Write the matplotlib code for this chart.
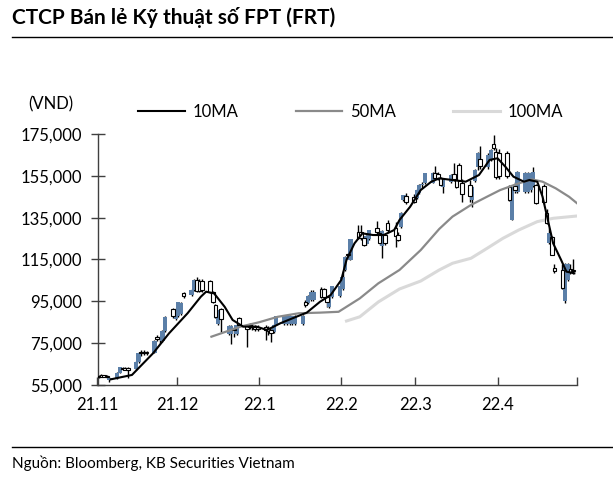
import os

os.environ.setdefault("MPLCONFIGDIR", "/tmp/matplotlib")

import matplotlib
matplotlib.use("Agg")
import matplotlib.pyplot as plt
import matplotlib.dates as mdates
from matplotlib.lines import Line2D
from matplotlib.ticker import FuncFormatter
import pandas as pd

# daily candles (thousand VND), one per weekday 2021-11-01 .. 2022-04-29
opens = [
    59.5, 59.8, 59.6, 59.5, 57.5, 58.5, 60.8, 63.3, 63.2, 63.0,
    62.5, 66.0, 70.8, 70.8, 70.6, 70.5, 77.8, 77.0, 76.0, 81.0,
    91.5, 86.5, 88.0, 89.0, 98.8, 98.0, 100.5, 105.0, 104.8, 104.8,
    104.5, 99.5, 93.2, 84.0, 91.3, 79.5, 79.5, 81.8, 79.6, 87.0,
    83.5, 83.5, 83.0, 82.8, 82.5, 82.5, 82.2, 81.5, 80.3, 83.7,
    84.0, 84.2, 84.0, 84.3, 84.0, 84.0, 94.7, 94.0, 95.6, 95.8,
    101.0, 101.0, 97.0, 92.5, 97.0, 97.5, 101.0, 110.0, 117.5, 115.0,
    128.0, 128.0, 125.3, 122.5, 125.0, 130.0, 127.5, 121.5, 126.5, 132.5,
    130.0, 126.5, 130.5, 143.5, 145.5, 145.0, 144.4, 146.8, 150.5, 151.6,
    151.8, 156.3, 156.0, 154.0, 149.6, 152.0, 156.0, 153.0, 160.0, 151.5,
    150.5, 143.4, 152.5, 159.0, 163.0, 159.2, 162.6, 170.0, 166.4, 166.0,
    166.0, 149.6, 134.0, 150.0, 147.5, 147.5, 147.5, 148.0, 150.0, 150.5,
    150.0, 137.2, 122.9, 125.7, 111.0, 110.0, 95.0, 105.0, 110.5, 110.0,
]
highs = [
    60.0, 60.2, 60.0, 59.8, 59.0, 61.0, 63.8, 63.8, 63.6, 63.5,
    66.5, 71.0, 71.8, 71.6, 71.4, 76.5, 79.0, 78.5, 81.5, 87.8,
    92.0, 92.0, 94.8, 94.5, 99.5, 101.0, 105.5, 106.6, 105.5, 105.5,
    105.0, 100.0, 93.5, 91.0, 92.0, 83.5, 83.5, 82.5, 84.0, 87.5,
    84.0, 84.5, 84.0, 83.8, 83.5, 83.5, 83.0, 82.0, 84.0, 88.0,
    88.2, 88.0, 88.3, 88.2, 88.3, 88.5, 95.5, 98.0, 100.4, 100.4,
    101.8, 101.6, 97.5, 97.5, 102.5, 102.5, 109.5, 116.5, 118.0, 125.0,
    131.5, 131.5, 126.0, 126.5, 129.0, 133.5, 128.0, 129.0, 127.0, 134.0,
    133.0, 128.0, 137.5, 146.0, 147.0, 146.5, 148.5, 151.0, 152.0, 156.5,
    156.8, 159.7, 157.0, 154.5, 153.5, 155.8, 161.0, 154.0, 161.0, 153.5,
    153.0, 150.0, 158.5, 166.5, 169.5, 166.0, 168.0, 174.5, 168.5, 168.0,
    167.0, 150.5, 149.8, 152.0, 157.5, 157.0, 157.0, 157.0, 159.2, 151.0,
    151.0, 139.0, 130.0, 126.0, 113.0, 113.0, 113.5, 113.5, 113.0, 115.0,
]
lows = [
    58.5, 58.8, 58.8, 58.5, 56.5, 58.0, 60.5, 62.0, 62.0, 58.5,
    62.0, 65.5, 69.0, 69.2, 69.3, 70.2, 76.0, 75.0, 75.5, 80.5,
    87.0, 86.0, 87.5, 88.5, 96.5, 97.5, 100.0, 99.5, 99.5, 99.5,
    99.0, 94.0, 87.0, 83.5, 80.3, 79.0, 74.5, 78.0, 79.0, 83.0,
    73.0, 82.0, 81.5, 81.0, 81.0, 76.5, 79.0, 75.5, 79.8, 83.5,
    83.6, 83.8, 83.5, 83.8, 83.6, 83.5, 92.5, 93.5, 95.0, 95.0,
    96.5, 96.5, 92.3, 92.0, 96.5, 97.0, 100.5, 109.5, 116.5, 114.8,
    125.0, 124.5, 121.5, 122.0, 124.5, 127.0, 122.0, 115.7, 122.0, 128.0,
    121.0, 124.0, 130.0, 143.0, 141.5, 142.0, 144.0, 146.5, 149.0, 151.0,
    151.5, 153.5, 153.0, 150.0, 147.0, 151.5, 152.5, 149.0, 152.5, 142.5,
    142.5, 140.0, 152.0, 158.0, 158.5, 158.5, 162.0, 167.5, 153.5, 153.5,
    154.0, 143.0, 133.9, 147.0, 147.0, 147.0, 147.0, 147.5, 149.5, 141.5,
    141.5, 132.0, 122.5, 117.0, 108.5, 101.0, 94.2, 104.5, 108.0, 108.0,
]
closes = [
    59.0, 59.0, 58.9, 58.8, 58.5, 60.8, 63.5, 62.5, 62.4, 62.2,
    66.0, 70.5, 70.2, 70.3, 70.2, 76.0, 77.0, 77.8, 81.0, 87.5,
    87.8, 91.5, 94.5, 94.0, 97.5, 100.5, 105.0, 100.0, 100.0, 100.2,
    99.5, 94.7, 87.5, 90.8, 86.5, 83.2, 83.0, 81.2, 83.5, 83.8,
    81.8, 82.8, 82.5, 82.0, 81.8, 81.5, 81.0, 80.0, 83.7, 87.8,
    88.0, 87.8, 88.0, 87.9, 88.0, 88.2, 93.2, 97.5, 99.5, 99.4,
    97.2, 97.0, 94.7, 97.1, 102.3, 102.3, 106.6, 116.2, 117.0, 124.8,
    125.5, 125.2, 122.0, 126.0, 128.9, 128.0, 123.0, 128.5, 123.0, 129.0,
    126.0, 124.5, 137.2, 145.8, 142.5, 142.5, 148.2, 150.6, 151.0, 156.3,
    156.3, 154.0, 154.0, 150.6, 153.0, 155.4, 153.5, 149.6, 153.0, 146.5,
    145.5, 149.6, 158.0, 165.9, 159.5, 165.0, 167.3, 168.5, 154.5, 155.0,
    155.0, 143.5, 149.6, 148.0, 156.8, 156.5, 156.5, 156.5, 157.0, 142.0,
    142.5, 132.4, 127.7, 117.1, 109.5, 101.4, 113.0, 113.0, 109.0, 109.5,
]

# moving averages
ma10_dates = [
    "2021-11-06", "2021-11-14", "2021-11-17", "2021-11-22", "2021-11-28",
    "2021-12-05", "2021-12-10", "2021-12-12", "2021-12-15", "2021-12-19",
    "2021-12-22", "2021-12-26", "2021-12-31", "2022-01-04", "2022-01-09",
    "2022-01-15", "2022-01-19", "2022-01-24", "2022-01-28", "2022-02-01",
    "2022-02-03", "2022-02-06", "2022-02-09", "2022-02-13", "2022-02-17",
    "2022-02-21", "2022-02-23", "2022-02-27", "2022-03-03", "2022-03-07",
    "2022-03-10", "2022-03-15", "2022-03-20", "2022-03-25", "2022-03-29",
    "2022-04-01", "2022-04-04", "2022-04-07", "2022-04-11", "2022-04-13",
    "2022-04-16", "2022-04-18", "2022-04-20", "2022-04-22", "2022-04-25",
    "2022-04-27", "2022-04-30",
]
ma10_values = [
    57.7, 59.8, 63.7, 70.2, 79.7,
    89.3, 97.2, 99.6, 98.8, 92.4,
    86.1, 82.9, 82.9, 81.3, 84.5,
    87.6, 89.6, 94.8, 98.0, 105.2,
    114.8, 122.7, 127.5, 126.7, 126.7,
    129.1, 133.9, 140.2, 148.2, 152.2,
    153.8, 153.0, 152.2, 155.4, 162.6,
    163.4, 159.3, 154.6, 152.2, 153.0,
    152.2, 145.0, 133.9, 122.7, 114.8,
    109.2, 108.4,
]
ma50_dates = [
    "2021-12-14", "2021-12-25", "2022-01-01", "2022-01-08", "2022-01-16",
    "2022-01-24", "2022-01-31", "2022-02-03", "2022-02-08", "2022-02-15",
    "2022-02-23", "2022-03-03", "2022-03-10", "2022-03-15", "2022-03-22",
    "2022-03-28", "2022-04-02", "2022-04-09", "2022-04-14", "2022-04-18",
    "2022-04-23", "2022-04-28", "2022-05-01",
]
ma50_values = [
    78.1, 82.9, 85.0, 87.6, 89.3,
    89.6, 90.0, 92.4, 96.4, 103.6,
    110.0, 119.5, 129.6, 135.5, 141.1,
    145.0, 148.2, 151.4, 153.3, 152.2,
    149.0, 145.0, 141.9,
]
ma100_dates = [
    "2022-02-03", "2022-02-08", "2022-02-15", "2022-02-23", "2022-03-03",
    "2022-03-10", "2022-03-15", "2022-03-22", "2022-03-28", "2022-04-03",
    "2022-04-09", "2022-04-16", "2022-04-22", "2022-05-01",
]
ma100_values = [
    85.6, 87.6, 94.7, 100.9, 104.7,
    110.0, 113.2, 115.6, 120.3, 125.1,
    129.1, 133.1, 134.7, 135.8,
]

UP_COLOR = "#5b7fa8"

plt.rcParams["font.family"] = ["Lato", "DejaVu Sans"]

fig = plt.figure(figsize=(6.13, 4.79), dpi=100)
ax = fig.add_axes([97.5 / 613, 94 / 479, 479.5 / 613, 251 / 479])

days = pd.bdate_range("2021-11-01", "2022-04-29")
x = mdates.date2num(days) + 0.5
df = pd.DataFrame({"x": x, "o": opens, "h": highs, "l": lows, "c": closes})
up = df[df.c >= df.o]
down = df[df.c < df.o]

ax.vlines(df.x, df.l, df.h, color="black", linewidth=1.0, zorder=2)
ax.bar(up.x, up.c - up.o, bottom=up.o, width=1.6, color=UP_COLOR, linewidth=0, zorder=3)
ax.bar(down.x, down.o - down.c, bottom=down.c, width=1.4, facecolor="white",
       edgecolor="black", linewidth=0.8, zorder=3)

ax.plot(pd.to_datetime(ma100_dates), ma100_values, color="#d9d9d9", linewidth=2.2, zorder=1)
ax.plot(pd.to_datetime(ma50_dates), ma50_values, color="#8a8a8a", linewidth=1.6, zorder=4)
ax.plot(pd.to_datetime(ma10_dates), ma10_values, color="black", linewidth=1.5, zorder=5)

ax.set_xlim(mdates.datestr2num("2021-11-01"), mdates.datestr2num("2022-05-01"))
ax.set_ylim(55, 175)
ax.set_yticks(range(55, 176, 20))
ax.yaxis.set_major_formatter(FuncFormatter(lambda v, _: f"{v * 1000:,.0f}"))
ax.xaxis.set_major_locator(mdates.MonthLocator())


def month_label(v, _):
    d = mdates.num2date(v)
    if d.year == 2022 and d.month == 5:
        return ""
    return f"{d.year % 100}.{d.month}"


ax.xaxis.set_major_formatter(FuncFormatter(month_label))

for side in ("top", "right"):
    ax.spines[side].set_visible(False)
for side in ("left", "bottom"):
    ax.spines[side].set_color("#404040")
    ax.spines[side].set_linewidth(1.0)
ax.tick_params(axis="y", direction="inout", length=10, width=1, color="#404040",
               labelsize=12, pad=6)
ax.tick_params(axis="x", direction="in", length=6, width=1, color="#404040",
               labelsize=12, pad=9)

handles = [Line2D([], [], color="black", linewidth=1.5),
           Line2D([], [], color="#8a8a8a", linewidth=1.6),
           Line2D([], [], color="#d9d9d9", linewidth=2.2)]
fig.legend(handles, ["10MA", "50MA", "100MA"], loc="center left",
           bbox_to_anchor=(138 / 613, 1 - 112 / 479), ncol=3, frameon=False,
           fontsize=12, handlelength=2.8, handletextpad=0.5, columnspacing=3.4,
           borderaxespad=0, borderpad=0)

fig.text(12 / 613, 1 - 18 / 479, "CTCP Bán lẻ Kỹ thuật số FPT (FRT)", fontsize=15,
         fontweight="bold", va="center", ha="left")
fig.add_artist(Line2D([12 / 613, 1], [1 - 37 / 479] * 2, color="black", linewidth=1.0))
fig.text(51 / 613, 1 - 104 / 479, "(VND)", fontsize=12, va="center", ha="center")
fig.add_artist(Line2D([12 / 613, 1], [1 - 447 / 479] * 2, color="black", linewidth=1.0))
fig.text(12 / 613, 1 - 463 / 479, "Nguồn: Bloomberg, KB Securities Vietnam", fontsize=11,
         va="center", ha="left")

fig.savefig("out.png", dpi=100)
